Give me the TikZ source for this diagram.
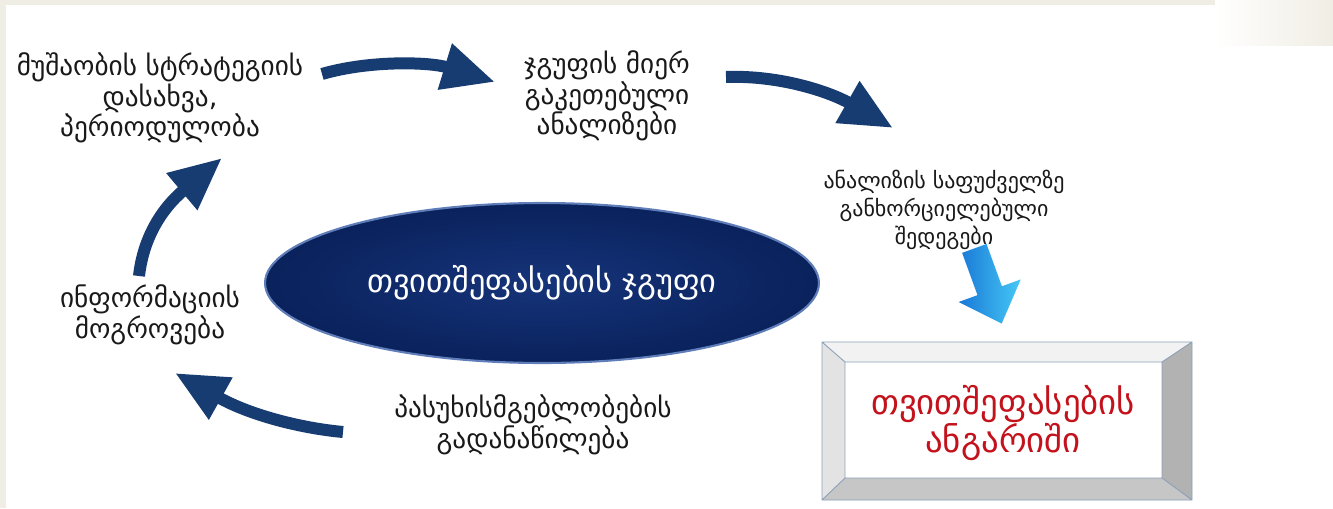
\documentclass[tikz,border=0pt]{standalone}
\usepackage{fontspec}
\setmainfont{DejaVu Sans}
\usepackage{tikz}
\usetikzlibrary{positioning, calc, arrows.meta, shapes.geometric}
\definecolor{navy}{RGB}{22,60,114}
\definecolor{bgbeige}{RGB}{240,237,228}
\definecolor{labelgray}{RGB}{25,25,25}
\definecolor{ellin}{RGB}{22,52,122}
\definecolor{ellout}{RGB}{10,34,92}
\definecolor{ellrim}{RGB}{95,125,185}
\definecolor{frame}{RGB}{140,160,185}
\definecolor{repred}{RGB}{196,18,28}
\definecolor{skyA}{RGB}{25,120,215}
\definecolor{skyB}{RGB}{70,200,245}

\begin{document}
\begin{tikzpicture}[x=0.02cm, y=-0.02cm,
    lbl/.style={align=center, text=labelgray, font=\fontsize{15.5pt}{17.5pt}\selectfont},
    cyc/.style={navy, line width=0.24cm, -{Triangle[length=1.05cm, width=0.9cm]}}]
  \useasboundingbox (0,0) rectangle (1333,508);
  \fill[bgbeige] (0,0) rectangle (1333,508);
  \fill[white] (6,5) rectangle (1333,508);
  \shade[left color=white, right color=bgbeige] (1215,0) rectangle (1333,45);

  \node[lbl] (strat) at (160,98) {მუშაობის სტრატეგიის\\დასახვა,\\პერიოდულობა};
  \node[lbl] (anal) at (607,96) {ჯგუფის მიერ\\გაკეთებული\\ანალიზები};
  \node[lbl, font=\fontsize{12.5pt}{16pt}\selectfont] (res) at (944,210) {ანალიზის საფუძველზე\\განხორციელებული\\შედეგები};
  \node[lbl] (info) at (150,315) {ინფორმაციის\\მოგროვება};
  \node[lbl] (resp) at (533,425) {პასუხისმგებლობების\\გადანაწილება};

  \node[ellipse, minimum width=11.08cm, minimum height=3.2cm, draw=ellrim, line width=1.2pt,
    inner color=ellin, outer color=ellout, text=white,
    font=\fontsize{18.4pt}{21pt}\selectfont] (grp) at (542,283) {თვითშეფასების ჯგუფი};

  \coordinate (a1s) at (322,74);  \coordinate (a1e) at (495,82);
  \coordinate (a2s) at (726,77);  \coordinate (a2e) at (893,128);
  \coordinate (a3s) at (139,276); \coordinate (a3e) at (222,158);
  \coordinate (a4s) at (343,432); \coordinate (a4e) at (175,373);
  \draw[cyc] (a1s) .. controls (370,60) and (430,62) .. (a1e);
  \draw[cyc] (a2s) .. controls (780,75) and (830,92) .. (a2e);
  \draw[cyc] (a3s) .. controls (143,240) and (160,210) .. (a3e);
  \draw[cyc] (a4s) .. controls (300,428) and (250,415) .. (a4e);

  \begin{scope}[shift={(988,286)}, rotate=-70]
    \shade[left color=skyA, right color=skyB]
      (-40,-13) -- (5,-13) -- (5,-33) -- (40,0) -- (5,33) -- (5,13) -- (-40,13) -- cycle;
  \end{scope}

  \fill[gray!10] (822,342) -- (1192,342) -- (1162,362) -- (845,362) -- cycle;
  \fill[gray!22] (822,342) -- (845,362) -- (845,478) -- (822,500) -- cycle;
  \fill[gray!60] (1192,342) -- (1192,500) -- (1162,478) -- (1162,362) -- cycle;
  \fill[gray!45] (822,500) -- (1192,500) -- (1162,478) -- (845,478) -- cycle;
  \fill[white] (845,362) rectangle (1162,478);
  \draw[frame, line width=0.5pt] (822,342) rectangle (1192,500) (845,362) rectangle (1162,478)
    (822,342) -- (845,362) (1192,342) -- (1162,362) (1192,500) -- (1162,478) (822,500) -- (845,478);
  \node[text=repred, align=center, font=\fontsize{19.8pt}{21.5pt}\selectfont] (rep) at (1003,423) {თვითშეფასების\\ანგარიში};
\end{tikzpicture}
\end{document}
